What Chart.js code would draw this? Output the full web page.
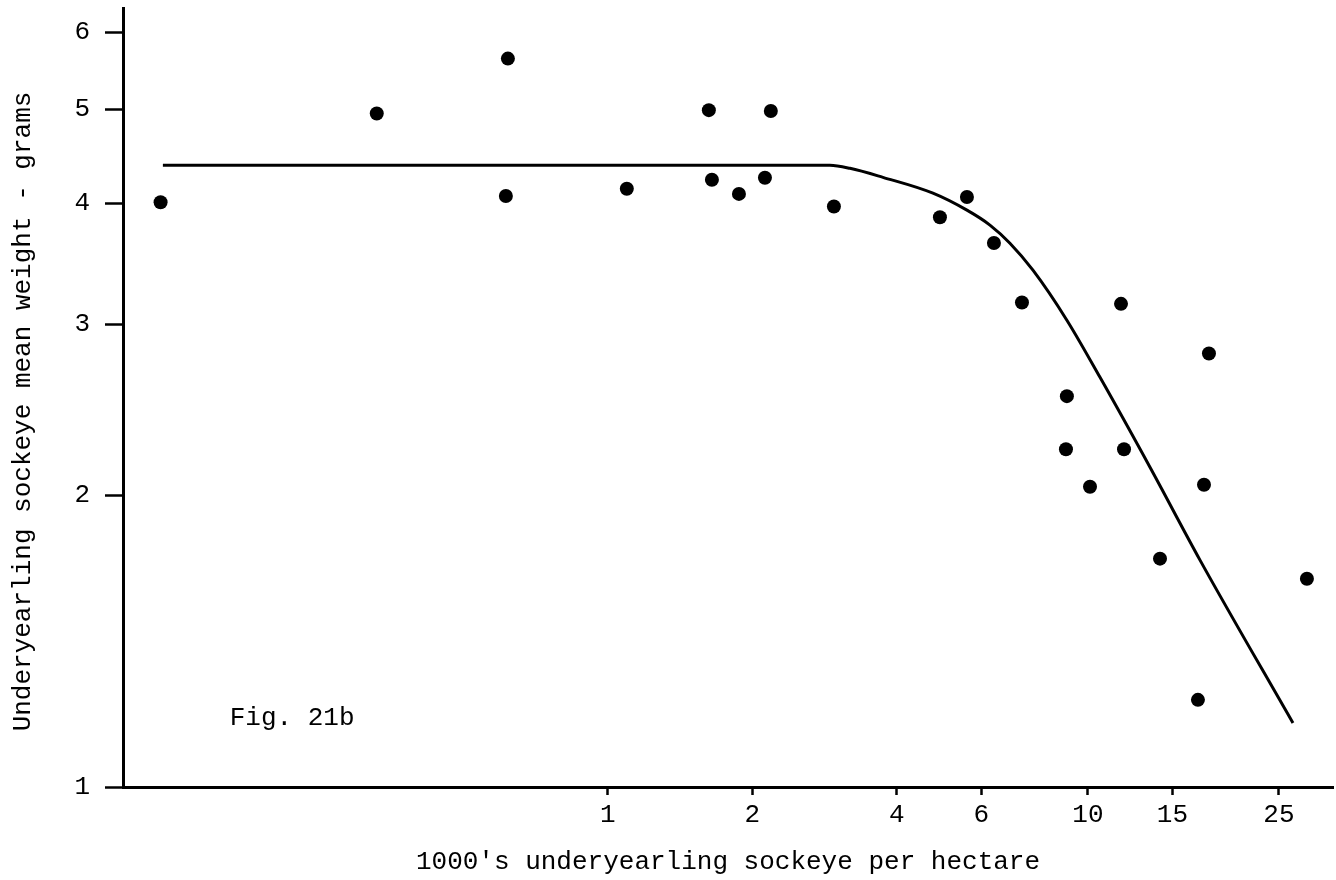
<!DOCTYPE html>
<html><head><meta charset="utf-8">
<script src="https://cdn.jsdelivr.net/npm/chart.js@4"></script>
<style>html,body{margin:0;padding:0;background:#fff;}#wrap{width:1336px;height:880px;}</style>
</head><body><div id="wrap"><canvas id="c" width="1336" height="880"></canvas></div>
<script>
// Observed points: density (1000's per hectare) and mean weight (grams)
const densityX = [0.117, 0.330, 0.619, 0.613, 1.095, 1.623, 1.647, 1.875, 2.185, 2.124, 2.957, 4.917, 5.597, 6.371, 7.288, 11.72, 17.87, 9.04, 9.00, 11.89, 10.10, 17.45, 14.13, 28.59, 16.95];
const weightY  = [4.01, 4.95, 5.64, 4.07, 4.14, 4.99, 4.23, 4.09, 4.98, 4.25, 3.97, 3.87, 4.06, 3.64, 3.16, 3.15, 2.80, 2.53, 2.23, 2.23, 2.04, 2.05, 1.72, 1.64, 1.23];
// Fitted curve
const curveX = [0.1183, 2.90, 3.193, 3.741, 4.755, 5.597, 6.250, 6.879, 7.682, 9.04, 10.59, 13.46, 17.12, 26.74];
const curveY = [4.377, 4.377, 4.346, 4.254, 4.097, 3.935, 3.798, 3.638, 3.412, 3.030, 2.647, 2.138, 1.714, 1.164];
const xTicks = [1, 2, 4, 6, 10, 15, 25];
const yTicks = [1, 2, 3, 4, 5, 6];
const xTitle = "1000's underyearling sockeye per hectare";
const yTitle = "Underyearling sockeye mean weight - grams";
const figLabel = "Fig. 21b";
const figLabelAt = {x: 0.163, y: 1.178};

const FONT = "'Liberation Mono', 'DejaVu Sans Mono', monospace";
const INK = '#000';

const pts = densityX.map((x, i) => ({x, y: weightY[i]}));
const curve = curveX.map((x, i) => ({x, y: curveY[i]}));

const textPlugin = {
  id: 'texts',
  afterDraw(chart) {
    const {ctx, scales, chartArea} = chart;
    ctx.save();
    ctx.font = '26px ' + FONT;
    ctx.fillStyle = INK;
    ctx.textAlign = 'left';
    ctx.textBaseline = 'middle';
    ctx.fillText(figLabel, scales.x.getPixelForValue(figLabelAt.x), scales.y.getPixelForValue(figLabelAt.y));
    // y axis title
    ctx.translate(scales.y.left + 23, (chartArea.top + chartArea.bottom) / 2 + 14);
    ctx.rotate(-Math.PI / 2);
    ctx.textAlign = 'center';
    ctx.fillText(yTitle, 0, 0);
    ctx.restore();
  }
};

new Chart(document.getElementById('c'), {
  type: 'scatter',
  data: {
    datasets: [
      {
        data: curve, showLine: true, borderColor: INK, borderWidth: 3,
        pointRadius: 0, cubicInterpolationMode: 'monotone', fill: false, order: 2
      },
      {
        data: pts, pointRadius: 7, pointHoverRadius: 7, backgroundColor: INK,
        borderColor: INK, borderWidth: 0, order: 1
      }
    ]
  },
  options: {
    responsive: false, animation: false,
    layout: {autoPadding: false, padding: {left: 0, top: 8, right: 3, bottom: 0}},
    plugins: {legend: {display: false}, tooltip: {enabled: false}},
    scales: {
      x: {
        type: 'logarithmic', min: 0.0977, max: 32.4,
        afterBuildTicks(s) { s.ticks = xTicks.map(v => ({value: v})); },
        afterFit(s) { s.height = 93; s.paddingLeft = 0; s.paddingRight = 0; },
        ticks: {
          autoSkip: false, maxRotation: 0, padding: 5, color: INK,
          font: {family: FONT, size: 26},
          callback: v => String(v)
        },
        grid: {drawOnChartArea: false, drawTicks: true, tickLength: 8, tickWidth: 2.5, tickColor: INK},
        border: {display: true, color: INK, width: 3},
        title: {display: true, text: xTitle, color: INK, font: {family: FONT, size: 26}, padding: {top: 0, bottom: 2}}
      },
      y: {
        type: 'logarithmic', min: 1, max: 6.36,
        afterBuildTicks(s) { s.ticks = yTicks.map(v => ({value: v})); },
        afterFit(s) { s.width = 123; s.paddingTop = 0; s.paddingBottom = 0; },
        ticks: {
          autoSkip: false, padding: 15, color: INK,
          font: {family: FONT, size: 26},
          callback: v => String(v)
        },
        grid: {drawOnChartArea: false, drawTicks: true, tickLength: 18, tickWidth: 2.5, tickColor: INK},
        border: {display: true, color: INK, width: 3},
        title: {display: false, text: yTitle}
      }
    }
  },
  plugins: [textPlugin]
});
</script>
</body></html>
